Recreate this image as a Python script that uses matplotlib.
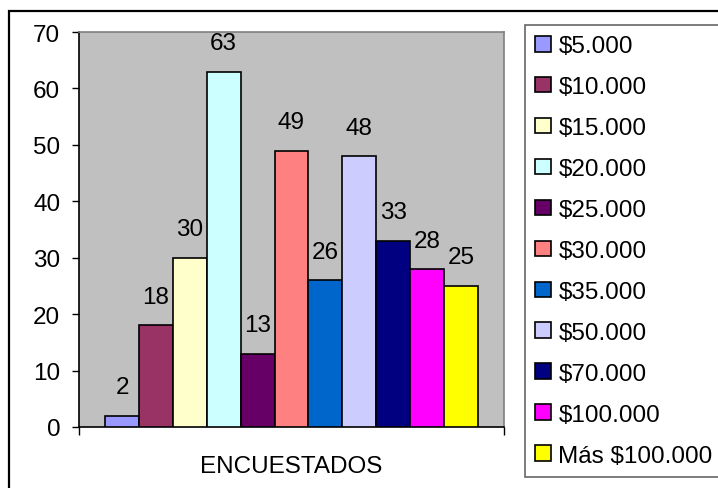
import matplotlib
matplotlib.use("Agg")
import matplotlib.pyplot as plt
from matplotlib.patches import Rectangle

plt.rcParams['font.family'] = ['Liberation Sans', 'DejaVu Sans']

# Survey data: number of respondents per income bracket
categories = ["$5.000", "$10.000", "$15.000", "$20.000", "$25.000", "$30.000",
              "$35.000", "$50.000", "$70.000", "$100.000", "Más $100.000"]
values = [2, 18, 30, 63, 13, 49, 26, 48, 33, 28, 25]
colors = ["#9999FF", "#993366", "#FFFFCC", "#CCFFFF", "#660066", "#FF8080",
          "#0066CC", "#CCCCFF", "#000080", "#FF00FF", "#FFFF00"]
group_label = "ENCUESTADOS"
y_ticks = [0, 10, 20, 30, 40, 50, 60, 70]

W, H = 718, 489
fs = 17.5
fig = plt.figure(figsize=(W / 100, H / 100), dpi=100)
fig.patch.set_facecolor("white")

# Plot area
ax = fig.add_axes([79 / W, 1 - 428 / H, (504 - 79) / W, (428 - 33) / H])
ax.set_facecolor("#C0C0C0")

n = len(values)
side = 0.77
bars = []
for i, (cat, v, c) in enumerate(zip(categories, values, colors)):
    b = ax.bar(i, v, width=1.0, color=c, edgecolor="black", linewidth=1.2,
               zorder=3)
    bars.append(b[0])
    ax.annotate(str(v), (i, v), xytext=(0, 20.5), textcoords="offset points",
                ha="center", va="center", fontsize=fs)

ax.set_xlim(-0.5 - side, n - 0.5 + side)
ax.set_ylim(0, 70)
ax.set_yticks(y_ticks)
ax.tick_params(axis="y", direction="out", length=5, width=1, pad=8.5,
               labelsize=fs, color="black")

# Category axis: boundary ticks at both ends, label centered underneath
x0, x1 = ax.get_xlim()
ax.set_xticks([x0, x1], minor=True)
ax.set_xticks([(x0 + x1) / 2])
ax.set_xticklabels([group_label])
ax.tick_params(axis="x", which="minor", direction="out", length=6, width=1)
ax.tick_params(axis="x", which="major", length=0, pad=20.5, labelsize=fs)

for s in ("top", "right"):
    ax.spines[s].set_color("#808080")
    ax.spines[s].set_linewidth(1.2)
for s in ("left", "bottom"):
    ax.spines[s].set_color("black")
    ax.spines[s].set_linewidth(1.2)

# Legend
leg = ax.legend(handles=bars, labels=categories, loc="upper left",
                bbox_to_anchor=(525 / W, 1 - 26 / H), bbox_transform=fig.transFigure,
                fontsize=fs, frameon=True, fancybox=False, shadow=False,
                borderpad=0.42, borderaxespad=0, labelspacing=0.78,
                handlelength=0.66, handleheight=0.62, handletextpad=0.29)
leg.get_frame().set_edgecolor("#404040")
leg.get_frame().set_linewidth(1.2)

# Outer chart border
fig.add_artist(Rectangle((9 / W, -0.1), 1.0, 1 - 12 / H + 0.1,
                         transform=fig.transFigure, fill=False,
                         edgecolor="black", linewidth=1.6))

fig.savefig("out.png", dpi=100)
